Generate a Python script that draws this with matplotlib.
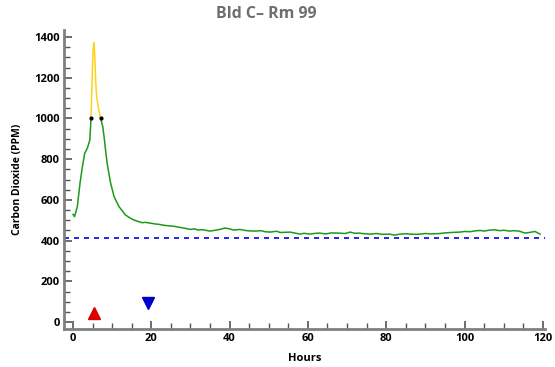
import numpy as np
import matplotlib.pyplot as plt
from matplotlib.ticker import MultipleLocator

plt.rcParams['font.family'] = ['Open Sans', 'DejaVu Sans']

# CO2 readings (hours, ppm)
hours = [0.0, 0.4, 1.1, 1.8, 2.4, 3.0, 3.65, 4.3, 4.6, 4.9, 5.1, 5.36, 5.6, 5.8, 6.05, 6.5, 7.07,
         7.6, 8.0, 8.4, 8.8, 9.6, 10.5, 11.75, 13.4, 14.6, 15.6, 16.5, 17.7, 18.5, 19.7, 21, 22,
         23, 24.8, 26, 27, 28, 30, 31, 32, 33, 35, 36, 37.5, 38.8, 40, 41, 42.7, 44, 45,
         46.5, 48, 49, 50.3, 52, 53, 55.4, 56.5, 58, 59, 60.5, 62, 63, 64.5, 66, 68, 69.5,
         70.8, 72, 73, 74.5, 76, 77.5, 79, 81, 82, 83.5, 85, 86, 88, 90, 91.5, 93.7, 95,
         96.5, 98.8, 100, 101.5, 102.7, 104, 105, 106.5, 107.8, 109, 110, 111.6, 112.5, 114,
         115.4, 116.5, 118, 119.3]
co2 = [529, 518, 567, 683, 763, 830, 853, 894, 1000, 1200, 1330, 1372, 1290, 1180, 1107, 1050, 1000,
       960, 900, 830, 770, 683, 616, 567, 526, 511, 501, 495, 488, 490, 486, 482, 480,
       476, 472, 470, 466, 463, 455, 458, 452, 454, 447, 450, 455, 462, 458, 452, 455, 450, 448,
       447, 449, 444, 442, 446, 440, 442, 438, 432, 436, 432, 436, 437, 433, 438, 437, 435,
       442, 436, 437, 434, 432, 435, 431, 432, 427, 432, 434, 432, 431, 435, 433, 435, 438,
       440, 442, 445, 444, 448, 450, 447, 452, 453, 449, 451, 447, 449, 447,
       437, 440, 445, 432]
baseline = 415
start_mark = (5.4, 44)
end_mark = (19.2, 92)

h = np.array(hours)
c = np.array(co2, dtype=float)

fig = plt.figure(figsize=(5.55, 3.67), dpi=100)
ax = fig.add_axes([0.1153, 0.1035, 0.867, 0.815])

ax.plot(h, np.ma.masked_where(c > 1000, c), color='#1a9a1a', lw=1.1)
ax.plot(h, np.ma.masked_where(c < 1000, c), color='#ffd21a', lw=1.1)
at_limit = c == 1000
ax.plot(h[at_limit], c[at_limit], 'o', color='black', ms=2)

ax.axhline(baseline, color='#0000ee', lw=1.2, dashes=(3, 3))
ax.plot(*start_mark, '^', color='#dd0000', ms=8)
ax.plot(*end_mark, 'v', color='#0000cc', ms=8)

ax.set_xlim(-2.3, 120.6)
ax.set_ylim(-34, 1435)
ax.xaxis.set_major_locator(MultipleLocator(20))
ax.xaxis.set_minor_locator(MultipleLocator(5))
ax.yaxis.set_major_locator(MultipleLocator(200))
ax.yaxis.set_minor_locator(MultipleLocator(50))

for s in ['top', 'right']:
    ax.spines[s].set_visible(False)
for s in ['left', 'bottom']:
    ax.spines[s].set_color('#808080')
    ax.spines[s].set_linewidth(2)

ax.tick_params(which='major', direction='in', length=6, width=1.2, color='#555555',
               labelsize=8, pad=3)
ax.tick_params(which='minor', direction='in', length=4, width=1, color='#555555')
for lbl in ax.get_xticklabels() + ax.get_yticklabels():
    lbl.set_fontweight('bold')

ax.set_xlabel('Hours', fontsize=8, fontweight='bold', labelpad=6)
ax.set_ylabel('Carbon Dioxide (PPM)', fontsize=7.5, fontweight='bold', labelpad=8)
fig.suptitle('Bld C\u2013 Rm 99', x=0.48, y=0.985, fontsize=11.5, fontweight='bold', color='#6e6e6e')

fig.savefig('out.png', dpi=100)
